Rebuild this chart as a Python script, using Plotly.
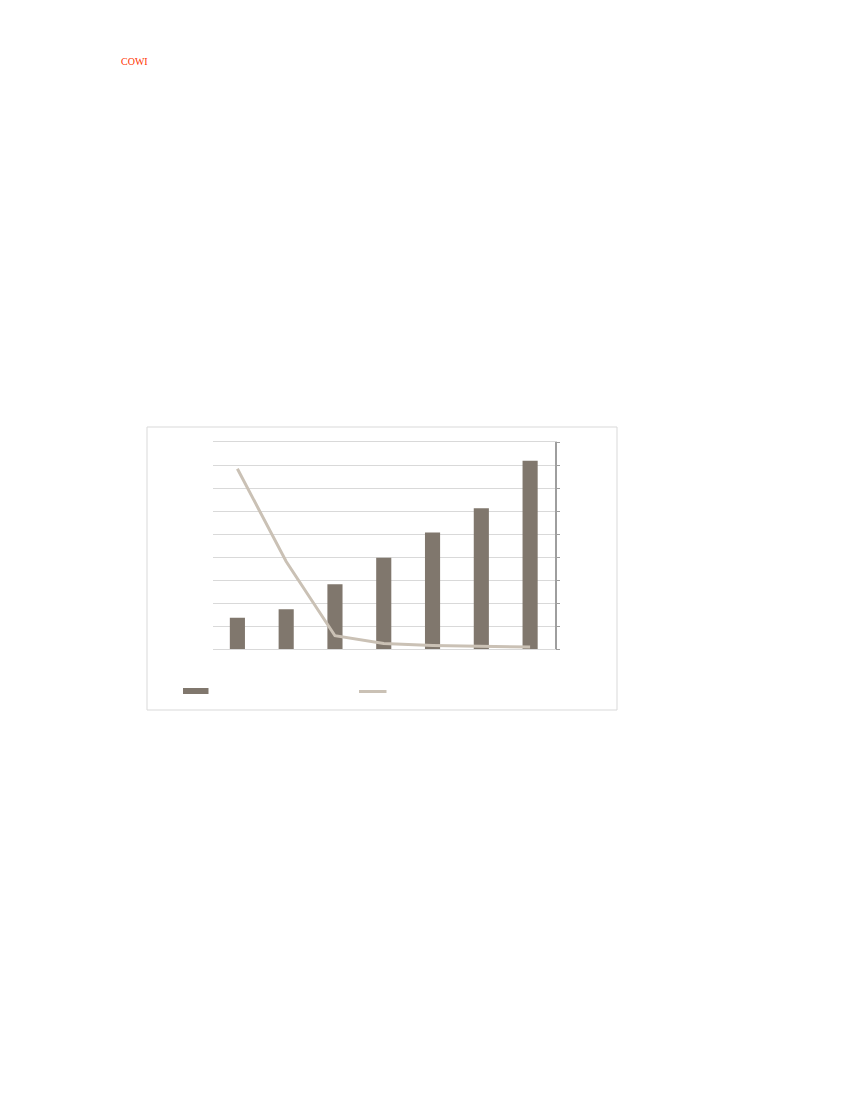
import plotly.graph_objects as go

# category slots (labels are not printed in the reference)
categories = ["1", "2", "3", "4", "5", "6", "7"]
bar_values = [1.37, 1.74, 2.82, 3.98, 5.07, 6.12, 8.19]
line_values = [7.84, 3.81, 0.59, 0.25, 0.17, 0.13, 0.10]

W, H = 850, 1100
OFF = 8  # page body margin
BAR_COLOR = "#80776D"
LINE_COLOR = "#CAC1B5"
GRID = "#D9D9D9"


def px_x(v):
    return (v - OFF) / W


def px_y(v):
    return 1 - (v - OFF) / H


fig = go.Figure()
fig.add_trace(go.Bar(x=categories, y=bar_values, marker_color=BAR_COLOR,
                     marker_line_width=0, name="", yaxis="y"))
fig.add_trace(go.Scatter(x=categories, y=line_values, mode="lines",
                         line=dict(color=LINE_COLOR, width=3), name="",
                         yaxis="y2"))

fig.update_layout(
    width=W, height=H,
    margin=dict(l=0, r=0, t=0, b=0),
    paper_bgcolor="white", plot_bgcolor="white",
    showlegend=False,
    bargap=0.69,
    xaxis=dict(domain=[px_x(213), px_x(554.5)], showticklabels=False,
               showgrid=False, showline=True, linecolor=GRID, mirror=True,
               ticks="", zeroline=False),
    yaxis=dict(domain=[px_y(649.3), px_y(442)], range=[0, 9], dtick=1,
               showticklabels=False, showgrid=True, gridcolor=GRID,
               gridwidth=1, zeroline=False, showline=False, ticks=""),
    yaxis2=dict(overlaying="y", side="right", range=[0, 9], dtick=1,
                showticklabels=False, showgrid=False, zeroline=False,
                showline=True, linecolor="#9E9E9E", linewidth=1.5,
                ticks="outside", ticklen=4, tickcolor="#9E9E9E"),
)

# chart frame
fig.add_shape(type="rect", xref="paper", yref="paper",
              x0=px_x(147), x1=px_x(617), y0=px_y(710), y1=px_y(427),
              line=dict(color=GRID, width=1), fillcolor="rgba(0,0,0,0)",
              layer="below")

# legend swatches (labels are blank in the reference)
fig.add_shape(type="rect", xref="paper", yref="paper",
              x0=px_x(183), x1=px_x(208.5), y0=px_y(694), y1=px_y(688),
              line=dict(width=0), fillcolor=BAR_COLOR)
fig.add_shape(type="line", xref="paper", yref="paper",
              x0=px_x(359), x1=px_x(386.5), y0=px_y(691.5), y1=px_y(691.5),
              line=dict(color=LINE_COLOR, width=3))

fig.add_annotation(text="COWI", xref="paper", yref="paper",
                   x=px_x(119), y=px_y(61), xanchor="left", yanchor="middle",
                   showarrow=False,
                   font=dict(family="Liberation Serif, DejaVu Serif, serif",
                             size=10, color="#FF3300"))

fig.write_html("out.html")
